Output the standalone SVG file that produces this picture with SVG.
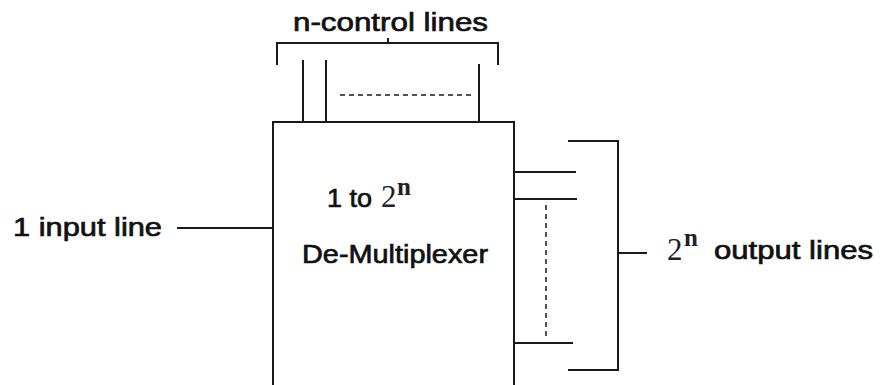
<svg xmlns="http://www.w3.org/2000/svg" width="888" height="385" viewBox="0 0 888 385">
<style>
.ln{stroke:#1a1a1a;stroke-width:2;fill:none}
.dash{stroke:#1a1a1a;stroke-width:1.5;fill:none;stroke-dasharray:5,4}
.t{font-family:"Liberation Sans",Arial,sans-serif;font-size:26px;fill:#111;stroke:#111;stroke-width:0.7}
.s{font-family:"Liberation Serif","Times New Roman",serif;font-size:31px;fill:#222}
.sup{font-family:"Liberation Serif","Times New Roman",serif;font-weight:bold;font-size:25px;fill:#222}
</style>
<rect width="888" height="385" fill="#fff"/>
<g id="demux">
<rect x="273" y="122" width="241" height="270" class="ln"/>
<text class="t" x="327" y="207" textLength="45" lengthAdjust="spacingAndGlyphs">1 to</text>
<text class="s" x="381" y="207">2</text>
<text class="sup" x="397" y="195">n</text>
<text class="t" x="302" y="263" textLength="186" lengthAdjust="spacingAndGlyphs">De-Multiplexer</text>
</g>
<g id="control-label">
<path class="ln" d="M277,65 V43 H498 V65 M388,43 V38"/>
<text class="t" x="293" y="31" textLength="195" lengthAdjust="spacingAndGlyphs">n-control  lines</text>
</g>
<g id="input-label">
<text class="t" x="13" y="236" textLength="149" lengthAdjust="spacingAndGlyphs">1  input line</text>
</g>
<g id="output-label">
<path class="ln" d="M568,141 H618 V370 H568 M618,253 H647"/>
<text class="s" x="667" y="260">2</text>
<text class="sup" x="684" y="246">n</text>
<text class="t" x="714" y="259" textLength="159" lengthAdjust="spacingAndGlyphs">output lines</text>
</g>
<g id="connectors">
<line class="ln" x1="177" y1="228" x2="273" y2="228"/>
<line class="ln" x1="303" y1="60" x2="303" y2="122"/>
<line class="ln" x1="326" y1="60" x2="326" y2="122"/>
<line class="ln" x1="479" y1="64" x2="479" y2="122"/>
<line class="dash" x1="340" y1="95" x2="472" y2="95"/>
<line class="ln" x1="514" y1="172" x2="576" y2="172"/>
<line class="ln" x1="514" y1="199" x2="577" y2="199"/>
<line class="ln" x1="514" y1="343" x2="573" y2="343"/>
<line class="dash" x1="546" y1="205" x2="546" y2="337"/>
</g>
</svg>
